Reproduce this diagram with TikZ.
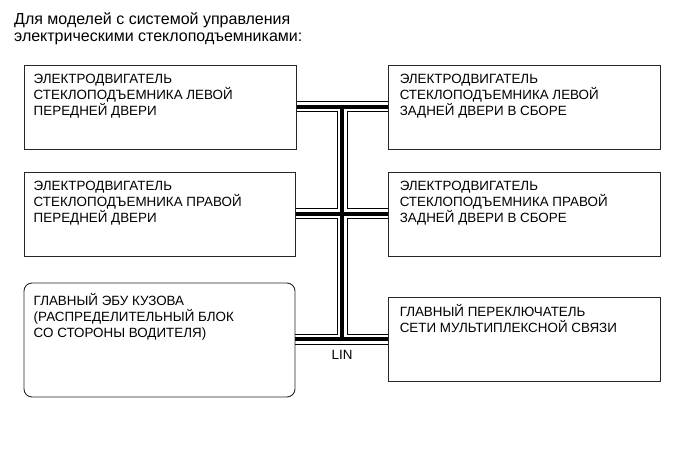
\documentclass[tikz,border=0pt]{standalone}
\usepackage{fontspec}
\setmainfont{Liberation Sans}
\usetikzlibrary{calc,backgrounds}
\newcommand{\boxtext}[1]{\parbox[t]{260bp}{\fontsize{13.4bp}{16bp}\selectfont #1}}
\tikzset{
  unitbox/.style={draw=black!85, line width=0.9bp, inner sep=0pt, minimum height=84bp},
  boxlabel/.style={anchor=base west, inner sep=0pt, align=left},
  bus/.style={draw=black, line width=11bp,
    postaction={draw=white, line width=9bp},
    postaction={draw=black, line width=4.5bp}}
}
\begin{document}
\begin{tikzpicture}[x=1bp,y=-1bp]
\useasboundingbox (0,0) rectangle (690,467);
\node[anchor=base west, inner sep=0pt] (title) at (14,25)
  {\parbox[t]{400bp}{\fontsize{16bp}{17bp}\selectfont Для моделей с системой управления\\электрическими стеклоподъемниками:}};

\node[unitbox, minimum width=272bp] (b1) at (160,107) {};
\node[unitbox, minimum width=272bp] (b2) at (524,107) {};
\node[unitbox, minimum width=271bp] (b3) at (159.5,214) {};
\node[unitbox, minimum width=272bp] (b4) at (524,214) {};
\node[unitbox, minimum width=271bp, minimum height=114bp, rounded corners=8bp] (b5) at (159.5,340) {};
\node[unitbox, minimum width=272bp] (b6) at (524,339) {};

\node[boxlabel] (t1) at ([shift={(10,19)}]b1.north west) {\boxtext{ЭЛЕКТРОДВИГАТЕЛЬ\\СТЕКЛОПОДЪЕМНИКА ЛЕВОЙ\\ПЕРЕДНЕЙ ДВЕРИ}};
\node[boxlabel] (t2) at ([shift={(12,19)}]b2.north west) {\boxtext{ЭЛЕКТРОДВИГАТЕЛЬ\\СТЕКЛОПОДЪЕМНИКА ЛЕВОЙ\\ЗАДНЕЙ ДВЕРИ В СБОРЕ}};
\node[boxlabel] (t3) at ([shift={(10,19)}]b3.north west) {\boxtext{ЭЛЕКТРОДВИГАТЕЛЬ\\СТЕКЛОПОДЪЕМНИКА ПРАВОЙ\\ПЕРЕДНЕЙ ДВЕРИ}};
\node[boxlabel] (t4) at ([shift={(12,19)}]b4.north west) {\boxtext{ЭЛЕКТРОДВИГАТЕЛЬ\\СТЕКЛОПОДЪЕМНИКА ПРАВОЙ\\ЗАДНЕЙ ДВЕРИ В СБОРЕ}};
\node[boxlabel] (t5) at ([shift={(10,23)}]b5.north west) {\boxtext{ГЛАВНЫЙ ЭБУ КУЗОВА\\(РАСПРЕДЕЛИТЕЛЬНЫЙ БЛОК\\СО СТОРОНЫ ВОДИТЕЛЯ)}};
\node[boxlabel] (t6) at ([shift={(12,20)}]b6.north west) {\boxtext{ГЛАВНЫЙ ПЕРЕКЛЮЧАТЕЛЬ\\СЕТИ МУЛЬТИПЛЕКСНОЙ СВЯЗИ}};

\coordinate (jt) at ($(b1.east)!0.5!(b2.west)$);
\coordinate (jb) at (jt |- b6.west);
\coordinate (b5e) at (b5.east |- b6.west);

\begin{scope}[on background layer]
\draw[bus] (b1.east) -- (b2.west) (b3.east) -- (b4.west) (b5e) -- (b6.west) (jt) -- (jb);
\end{scope}

\node[anchor=base, inner sep=0pt, font=\fontsize{13.4bp}{15bp}\selectfont] (lin) at ([yshift=-20bp]jb) {LIN};
\end{tikzpicture}
\end{document}
